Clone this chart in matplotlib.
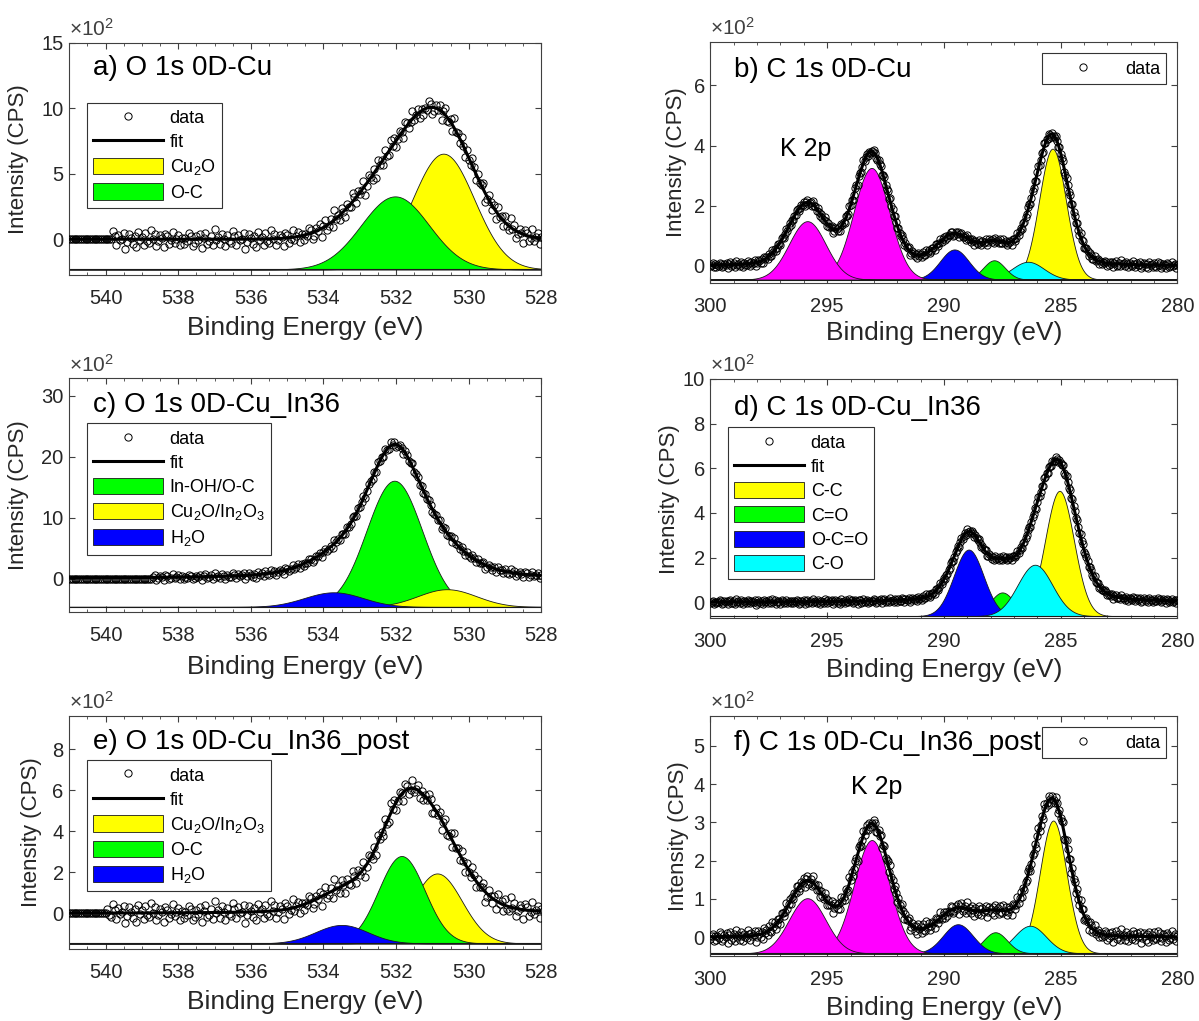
"""XPS O 1s / C 1s peak-fit panels for the 0D-Cu catalyst series."""

import matplotlib

matplotlib.use("Agg")
import matplotlib.pyplot as plt
import numpy as np
from matplotlib.ticker import MultipleLocator

plt.rcParams["font.family"] = ["Liberation Sans", "DejaVu Sans"]
plt.rcParams["mathtext.fontset"] = "custom"
plt.rcParams["mathtext.rm"] = "Liberation Sans"
plt.rcParams["mathtext.it"] = "Liberation Sans:italic"
plt.rcParams["mathtext.default"] = "regular"

# residuals of the measured points around the fit (normalised, read by eye)
residual_pattern = [
    0.3, -1.1, 0.8, 0.1, -0.6, 1.4, -0.2, -0.9, 0.5, 1.0, -1.5, 0.2,
    0.7, -0.3, -1.2, 0.9, 0.0, 1.6, -0.7, -0.4, 1.1, -1.0, 0.4, -0.1,
    1.3, -1.4, 0.6, -0.8, 0.2, 0.9, -0.5, -1.7, 1.2, 0.1, -0.2, 0.8,
    -1.0, 0.5, 1.5, -0.6, -0.3, 0.7, -1.3, 0.0, 1.0, -0.9, 0.4, -0.1,
    1.8, -1.1, 0.6, -0.4, -0.8, 1.2, 0.3, -1.6, 0.9, -0.2, 0.5, -0.7,
    -1.2, 0.6, 1.1, -0.3, 0.2, -0.9,
]

# a) O 1s 0D-Cu
a_labels = ["Cu$_2$O", "O-C"]
a_centers = [530.70, 532.03]
a_heights = [8.83, 5.57]
a_fwhm = [2.0, 2.2]
a_fit_heights = [7.35, 5.0]
a_fit_fwhm = [2.1, 2.5]
a_baseline = -2.3
a_lorentz = 0.0
a_noise = 0.42
a_flat_above = 539.8
a_scan = (528.0, 541.0, 0.05)

# b) C 1s 0D-Cu  (C-C, C-O, C=O, O-C=O, K 2p1/2, K 2p3/2)
b_centers = [285.35, 286.40, 287.85, 289.55, 293.10, 295.85]
b_heights = [4.35, 0.59, 0.64, 1.0, 3.71, 1.94]
b_fwhm = [1.35, 1.6, 1.1, 1.45, 1.8, 1.85]
b_fit_heights = [4.2, 0.5, 0.6, 1.0, 3.75, 2.05]
b_fit_fwhm = [1.6, 1.6, 1.3, 1.8, 1.75, 1.9]
b_baseline = -0.454
b_lorentz = 0.15
b_noise = 0.07
b_scan = (280.0, 300.0, 0.05)

# c) O 1s 0D-Cu_In36
c_labels = ["In-OH/O-C", "Cu$_2$O/In$_2$O$_3$", "H$_2$O"]
c_centers = [532.05, 530.60, 533.72]
c_heights = [20.73, 2.9, 2.4]
c_fwhm = [1.8, 1.9, 1.9]
c_fit_heights = [21.0, 2.8, 2.4]
c_fit_fwhm = [1.85, 1.9, 1.9]
c_baseline = -4.66
c_lorentz = 0.35
c_noise = 0.35
c_flat_above = 538.7
c_scan = (528.0, 541.0, 0.05)

# d) C 1s 0D-Cu_In36
d_labels = ["C-C", "C=O", "O-C=O", "C-O"]
d_centers = [285.05, 287.50, 288.94, 286.10]
d_heights = [5.61, 1.06, 2.98, 2.3]
d_fwhm = [1.45, 1.2, 1.5, 1.75]
d_fit_heights = [5.6, 1.0, 3.0, 1.8]
d_fit_fwhm = [1.8, 1.2, 1.6, 1.75]
d_baseline = -0.62
d_lorentz = 0.25
d_noise = 0.07
d_scan = (280.0, 300.0, 0.05)

# e) O 1s 0D-Cu_In36_post
e_labels = ["Cu$_2$O/In$_2$O$_3$", "O-C", "H$_2$O"]
e_centers = [530.87, 531.85, 533.50]
e_heights = [3.41, 4.26, 0.9]
e_fwhm = [1.6, 1.5, 1.7]
e_fit_heights = [3.4, 4.1, 0.9]
e_fit_fwhm = [1.9, 1.6, 1.7]
e_baseline = -1.46
e_lorentz = 0.2
e_noise = 0.3
e_flat_above = 539.95
e_scan = (528.0, 541.0, 0.05)

# f) C 1s 0D-Cu_In36_post
f_centers = [285.32, 286.31, 287.80, 289.40, 293.09, 295.85]
f_heights = [3.47, 0.72, 0.55, 0.76, 2.96, 1.44]
f_fwhm = [1.35, 1.6, 1.2, 1.5, 1.8, 1.85]
f_fit_heights = [3.4, 0.6, 0.5, 0.72, 2.95, 1.45]
f_fit_fwhm = [1.6, 1.6, 1.4, 1.9, 1.75, 1.8]
f_baseline = -0.42
f_lorentz = 0.1
f_noise = 0.1
f_scan = (280.0, 300.0, 0.05)

YELLOW, GREEN, BLUE = "#ffff00", "#00ff00", "#0000ff"
CYAN, MAGENTA = "#00ffff", "#ff00ff"
C1S_COLORS = [YELLOW, CYAN, GREEN, BLUE, MAGENTA, MAGENTA]
AXIS_GRAY = "#404040"


def peak(energy, center, height, fwhm, lorentz=0.0):
    """Pseudo-Voigt line shape."""
    u = (energy - center) / (fwhm / 2.0)
    gauss = np.exp(-np.log(2.0) * u * u)
    lor = 1.0 / (1.0 + u * u)
    return height * ((1.0 - lorentz) * gauss + lorentz * lor)


def envelope(energy, centers, heights, fwhm, lorentz):
    total = np.zeros_like(energy)
    for c, h, w in zip(centers, heights, fwhm):
        total += peak(energy, c, h, w, lorentz)
    return total


def draw_panel(ax, p):
    lo, hi, step = p["scan"]
    dense = np.linspace(lo, hi, 1500)
    fill_handles = []
    for c, h, w, color in zip(p["centers"], p["heights"], p["fwhm"], p["colors"]):
        comp = peak(dense, c, h, w)
        fill_handles.append(
            ax.fill_between(dense, p["baseline"], p["baseline"] + comp,
                            facecolor=color, edgecolor="#1a1a1a",
                            linewidth=0.6, zorder=2)
        )
    ax.axhline(p["baseline"], color="#1a1a1a", linewidth=0.8, zorder=2)

    scan = np.round(np.arange(lo, hi + step / 2, step), 3)
    noise = np.array([residual_pattern[i % len(residual_pattern)]
                      for i in range(len(scan))])
    fit_at_scan = envelope(scan, p["centers"], p["fit_heights"], p["fit_fwhm"],
                           p["lorentz"])
    counts = fit_at_scan + p["noise"] * noise
    if p.get("flat_above") is not None:
        counts[scan > p["flat_above"]] = 0.0
    (data_line,) = ax.plot(scan, counts, "o", mfc="none", mec="k", ms=5.2,
                           mew=0.7, zorder=3, label="data")
    fit = envelope(dense, p["centers"], p["fit_heights"], p["fit_fwhm"],
                   p["lorentz"])
    (fit_line,) = ax.plot(dense, fit, color="k", linewidth=2.2, zorder=4,
                          label="fit")

    ax.set_xlim(p["xlim"])
    ax.set_ylim(p["ylim"])
    ax.xaxis.set_major_locator(MultipleLocator(p["xmajor"]))
    ax.xaxis.set_minor_locator(MultipleLocator(p["xminor"]))
    ax.yaxis.set_major_locator(MultipleLocator(p["ymajor"]))
    ax.tick_params(which="both", direction="in", top=True, right=True,
                   colors=AXIS_GRAY, labelcolor="#262626", labelsize=14.5)
    ax.tick_params(which="major", length=4.5, width=0.8)
    ax.tick_params(which="minor", length=2.5, width=0.6)
    ax.tick_params(axis="x", pad=10)
    ax.tick_params(axis="y", pad=4)
    for spine in ax.spines.values():
        spine.set_color(AXIS_GRAY)
        spine.set_linewidth(0.8)

    ax.set_xlabel("Binding Energy (eV)", fontsize=19, color="#262626")
    ax.set_ylabel("Intensity (CPS)", fontsize=16, color="#262626")
    ax.xaxis.set_label_coords(0.5, p["xlabel_y"])
    ax.yaxis.set_label_coords(p["ylabel_x"], 0.5)
    ax.text(0.0, 1.012, r"$\times10^{2}$", transform=ax.transAxes,
            fontsize=15, color="#404040", ha="left", va="bottom")
    ax.text(0.051, p["title_y"], p["title"], transform=ax.transAxes,
            fontsize=20, ha="left", va="center", zorder=8)

    legend_kw = dict(fontsize=13, handlelength=3.9, handleheight=1.0,
                     handletextpad=0.35, labelspacing=0.33, borderpad=0.35,
                     borderaxespad=0.0, fancybox=False, framealpha=1.0,
                     edgecolor="#333333")
    if p.get("labels"):
        handles = [data_line, fit_line] + fill_handles
        labels = ["data", "fit"] + p["labels"]
        leg = ax.legend(handles, labels, loc="upper left",
                        bbox_to_anchor=(0.037, p["legend_y"]), **legend_kw)
    else:
        leg = ax.legend([data_line], ["data"], loc="upper right",
                        bbox_to_anchor=(0.976, 0.952), **legend_kw)
    leg.get_frame().set_linewidth(0.8)
    leg.set_zorder(7)

    if p.get("k2p") is not None:
        ax.text(p["k2p"][0], p["k2p"][1], "K 2p", fontsize=18, ha="left",
                va="center")


def main() -> None:
    fig = plt.figure(figsize=(11.99, 10.21), dpi=100)

    o1s = dict(xlim=(541.0, 528.0), xmajor=2, xminor=0.5)
    c1s = dict(xlim=(300.0, 280.0), xmajor=5, xminor=1)

    panels = [
        ([0.0577, 0.7304, 0.3939, 0.2278], dict(
            o1s, title="a) O 1s 0D-Cu", labels=a_labels, colors=[YELLOW, GREEN],
            centers=a_centers, heights=a_heights, fwhm=a_fwhm,
            fit_heights=a_fit_heights, fit_fwhm=a_fit_fwhm,
            baseline=a_baseline, lorentz=a_lorentz, noise=a_noise,
            flat_above=a_flat_above, scan=a_scan, ylim=(-2.75, 15.0),
            ymajor=5, title_y=0.89, legend_y=0.742,
            xlabel_y=-0.175, ylabel_x=-0.085)),
        ([0.5925, 0.7231, 0.3895, 0.2360], dict(
            c1s, title="b) C 1s 0D-Cu", colors=C1S_COLORS,
            centers=b_centers, heights=b_heights, fwhm=b_fwhm,
            fit_heights=b_fit_heights, fit_fwhm=b_fit_fwhm,
            baseline=b_baseline, lorentz=b_lorentz, noise=b_noise,
            scan=b_scan, ylim=(-0.56, 7.45), ymajor=2, title_y=0.883,
            k2p=(297.0, 3.9), xlabel_y=-0.159, ylabel_x=-0.05)),
        ([0.0577, 0.4006, 0.3939, 0.2289], dict(
            o1s, title="c) O 1s 0D-Cu_In36", labels=c_labels,
            colors=[GREEN, YELLOW, BLUE],
            centers=c_centers, heights=c_heights, fwhm=c_fwhm,
            fit_heights=c_fit_heights, fit_fwhm=c_fit_fwhm,
            baseline=c_baseline, lorentz=c_lorentz, noise=c_noise,
            flat_above=c_flat_above, scan=c_scan, ylim=(-5.5, 32.9),
            ymajor=10, title_y=0.886, legend_y=0.807,
            xlabel_y=-0.183, ylabel_x=-0.085)),
        ([0.5925, 0.3944, 0.3895, 0.2344], dict(
            c1s, title="d) C 1s 0D-Cu_In36", labels=d_labels,
            colors=[YELLOW, GREEN, BLUE, CYAN],
            centers=d_centers, heights=d_heights, fwhm=d_fwhm,
            fit_heights=d_fit_heights, fit_fwhm=d_fit_fwhm,
            baseline=d_baseline, lorentz=d_lorentz, noise=d_noise,
            scan=d_scan, ylim=(-0.72, 10.0), ymajor=2, title_y=0.878,
            legend_y=0.798, xlabel_y=-0.166, ylabel_x=-0.065)),
        ([0.0577, 0.0708, 0.3939, 0.2282], dict(
            o1s, title="e) O 1s 0D-Cu_In36_post", labels=e_labels,
            colors=[YELLOW, GREEN, BLUE],
            centers=e_centers, heights=e_heights, fwhm=e_fwhm,
            fit_heights=e_fit_heights, fit_fwhm=e_fit_fwhm,
            baseline=e_baseline, lorentz=e_lorentz, noise=e_noise,
            flat_above=e_flat_above, scan=e_scan, ylim=(-1.72, 9.64),
            ymajor=2, title_y=0.888, legend_y=0.81,
            xlabel_y=-0.176, ylabel_x=-0.057)),
        ([0.5925, 0.0637, 0.3895, 0.2353], dict(
            c1s, title="f) C 1s 0D-Cu_In36_post", colors=C1S_COLORS,
            centers=f_centers, heights=f_heights, fwhm=f_fwhm,
            fit_heights=f_fit_heights, fit_fwhm=f_fit_fwhm,
            baseline=f_baseline, lorentz=f_lorentz, noise=f_noise,
            scan=f_scan, ylim=(-0.49, 5.79), ymajor=1, title_y=0.885,
            k2p=(294.0, 3.92), xlabel_y=-0.168, ylabel_x=-0.045)),
    ]

    for rect, spec in panels:
        ax = fig.add_axes(rect)
        draw_panel(ax, spec)

    fig.savefig("out.png", dpi=100)
    plt.close(fig)


if __name__ == "__main__":
    main()
